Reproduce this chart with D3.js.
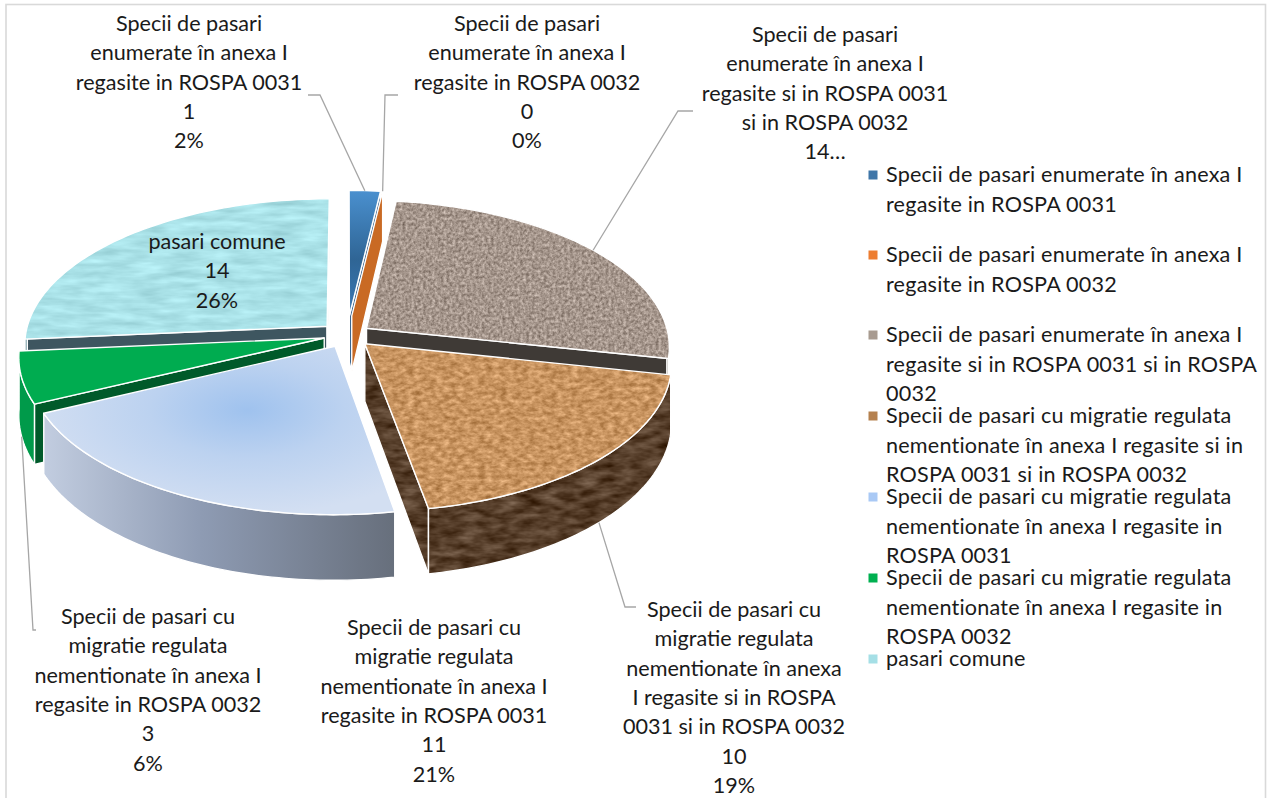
<!DOCTYPE html>
<html><head><meta charset="utf-8">
<script src="https://cdnjs.cloudflare.com/ajax/libs/d3/7.8.5/d3.min.js"></script>
<style>html,body{margin:0;padding:0;background:#fff;overflow:hidden}svg{display:block}text{font-family:Lato,"Open Sans",sans-serif;fill:#1a1a1a}</style>
</head><body><svg id="c" width="1268" height="798"></svg>
<script>
const categories=["Specii de pasari enumerate în anexa I regasite in ROSPA 0031","Specii de pasari enumerate în anexa I regasite in ROSPA 0032","Specii de pasari enumerate în anexa I regasite si in ROSPA 0031 si in ROSPA 0032","Specii de pasari cu migratie regulata nementionate în anexa I regasite si in ROSPA 0031 si in ROSPA 0032","Specii de pasari cu migratie regulata nementionate în anexa I regasite in ROSPA 0031","Specii de pasari cu migratie regulata nementionate în anexa I regasite  in ROSPA 0032","pasari comune"];
const values=[1,0,14,10,11,3,14];
const legendLines=[
["Specii de pasari enumerate în anexa I","regasite in ROSPA 0031"],
["Specii de pasari enumerate în anexa I","regasite in ROSPA 0032"],
["Specii de pasari enumerate în anexa I","regasite si in ROSPA 0031 si in ROSPA","0032"],
["Specii de pasari cu migratie regulata","nementionate în anexa I regasite si in","ROSPA 0031 si in ROSPA 0032"],
["Specii de pasari cu migratie regulata","nementionate în anexa I regasite in","ROSPA 0031"],
["Specii de pasari cu migratie regulata","nementionate în anexa I regasite  in","ROSPA 0032"],
["pasari comune"]];
const legendColors=["#3f76a8","#ed7d31","#a89b90","#b5814f","#a9c9f5","#00b050","#a5dfe6"];
const labelLines=[
["Specii de pasari","enumerate în anexa I","regasite in ROSPA 0031","1","2%"],
["Specii de pasari","enumerate în anexa I","regasite in ROSPA 0032","0","0%"],
["Specii de pasari","enumerate în anexa I","regasite si in ROSPA 0031","si in ROSPA 0032","14…"],
["Specii de pasari cu","migratie regulata","nementionate în anexa","I regasite si in ROSPA","0031 si in ROSPA 0032","10","19%"],
["Specii de pasari cu","migratie regulata","nementionate în anexa I","regasite in ROSPA 0031","11","21%"],
["Specii de pasari cu","migratie regulata","nementionate în anexa I","regasite  in ROSPA 0032","3","6%"],
["pasari comune","14","26%"]];
// layout
const labelPos=[[189,24],[527,24],[825,35],[734,610],[434,628],[148,617],[217,242]];
const LH=29.3,FS=21.6;
const explode=[.135,.135,.08,.084,.086,.078,.09];
const cx=347,cy=335,rx=302,ry=145,P=.122,D=57;
const drawOrder=[6,0,1,2,5,4,3];
const topFill=["url(#gBlue)","#c96a24","#a3948a","#c98f58","url(#gLight)","#00ac50","#a8e0e6"];
const topFilter=[null,null,"url(#granite)","url(#sand)",null,null,"url(#water)"];
const sideFill=["#2e5a85","#c96a24","#3f3a36","#4e3520","#5a6472","#005a2a","#3e5660"];
const wallFill=["#2e5a85","#c96a24","#4a3d32","#4e3520","url(#gWallBlue)","#009a4a","#5f8a94"];
const wallFilter=[null,null,null,"url(#wood)",null,null,null];
const sideFilter=[null,null,null,"url(#wood)",null,null,null];

const svg=d3.select("#c");
const defs=svg.append("defs");
function tex(id,freq,oct,seed,c,k){
  const f=defs.append("filter").attr("id",id).attr("x",0).attr("y",0).attr("width",1).attr("height",1).attr("color-interpolation-filters","sRGB");
  f.append("feTurbulence").attr("type","fractalNoise").attr("baseFrequency",freq).attr("numOctaves",oct).attr("seed",seed).attr("result","n");
  const v=c.map(x=>x/255);
  f.append("feColorMatrix").attr("in","n").attr("type","matrix").attr("values",
   `${k} 0 0 0 ${v[0]-k/2} ${k} 0 0 0 ${v[1]-k/2} ${k} 0 0 0 ${v[2]-k/2} 0 0 0 0 1`).attr("result","c");
  f.append("feComposite").attr("in","c").attr("in2","SourceAlpha").attr("operator","in");
}
tex("granite",".34",3,4,[165,150,140],.5);
tex("sand",".14 .24",3,8,[200,148,96],.42);
tex("water",".03 .14",3,5,[170,226,232],.2);
tex("wood",".05 .14",3,2,[86,62,42],.42);
function lin(id,stops){const g=defs.append("linearGradient").attr("id",id).attr("gradientUnits","objectBoundingBox");
  g.attr("x1",0).attr("x2",1).attr("y1",0).attr("y2",0);stops.forEach(s=>g.append("stop").attr("offset",s[0]).attr("stop-color",s[1]));return g;}
lin("gWallBlue",[[0,"#c2cde0"],[.45,"#8e9bb3"],[1,"#676f7c"]]);
lin("gBlue",[[0,"#4a90cf"],[.55,"#2f6595"],[1,"#3a78b5"]]).attr("x1",0).attr("x2",0).attr("y1",0).attr("y2",1);
const rg=defs.append("radialGradient").attr("id","gLight").attr("cx",.58).attr("cy",.38).attr("r",.62);
[[0,"#9fc2ee"],[.45,"#bcd2f0"],[1,"#d3dff2"]].forEach(s=>rg.append("stop").attr("offset",s[0]).attr("stop-color",s[1]));

const pieGen=d3.pie().sort(null).value(d=>d);
const arcs=pieGen(values);
const scaleS=v=>1/(1-P*v);
function proj(U,V){const s=scaleS(V);return [cx+rx*U*s,cy+ry*V*s,D*s];}
function pt(i,a,r){
  const m=(arcs[i].startAngle+arcs[i].endAngle)/2,f=explode[i];
  return proj(f*Math.sin(m)+r*Math.sin(a),-f*Math.cos(m)-r*Math.cos(a));
}
const line=d3.line();
function angles(a0,a1){const n=Math.max(2,Math.ceil((a1-a0)/.02));return d3.range(n+1).map(k=>a0+(a1-a0)*k/n);}
const gPie=svg.append("g");
function face(pts,fill,filter){
  const d=line(pts)+"Z";
  const p=gPie.append("path").attr("d",d).attr("fill",fill);
  if(filter)p.attr("filter",filter);
  gPie.append("path").attr("d",d).attr("fill","none").attr("stroke","#fff").attr("stroke-width",1.4).attr("stroke-linejoin","round");
}
drawOrder.forEach(i=>{
  const a0=arcs[i].startAngle,a1=arcs[i].endAngle;
  const A=pt(i,a0,0),R0=pt(i,a0,1),R1=pt(i,a1,1);
  const down=p=>[p[0],p[1]+p[2]];
  // cut faces are kept when they turn toward the viewer
  const startVis=a1===a0||(R0[0]-A[0])<0;
  const endVis=a1>a0&&(R1[0]-A[0])>0;
  if(startVis)face([A.slice(0,2),R0.slice(0,2),down(R0),down(A)],a1===a0?topFill[i]:sideFill[i],sideFilter[i]);
  if(endVis)face([A.slice(0,2),R1.slice(0,2),down(R1),down(A)],sideFill[i],sideFilter[i]);
  // outer wall for the front half
  const w0=Math.max(a0,Math.PI/2),w1=Math.min(a1,Math.PI*1.5);
  if(w1>w0){
    const top=angles(w0,w1).map(a=>pt(i,a,1));
    face(top.map(p=>p.slice(0,2)).concat(top.slice().reverse().map(down)),wallFill[i],wallFilter[i]);
  }
  // top face
  if(a1>a0){
    const rim=angles(a0,a1).map(a=>pt(i,a,1).slice(0,2));
    face([A.slice(0,2)].concat(rim),topFill[i],topFilter[i]);
  }
});
// border, open at the bottom edge of the page
svg.append("rect").attr("x",6).attr("y",4.5).attr("width",1259.5).attr("height",900).attr("fill","none").attr("stroke","#d9d9d9").attr("stroke-width",1.6);
// leaders
const leaderKnees=[[[308,95],[320,95]],[[398,95],[385,95]],[[693,111],[678,111]],[[636,607],[625,607]],null,[[36,630],[33,630]],null];
const lg=svg.append("g").attr("fill","none").attr("stroke","#a6a6a6").attr("stroke-width",1.3);
leaderKnees.forEach((k,i)=>{if(!k)return;
  const m=(arcs[i].startAngle+arcs[i].endAngle)/2,p=pt(i,m,1);
  const end=Math.cos(m)<0?[p[0],p[1]+p[2]]:[p[0],p[1]];
  lg.append("path").attr("d",line(k.concat([end])));
});
// labels
labelLines.forEach((ls,i)=>{
  const t=svg.append("text").attr("text-anchor","middle").attr("font-size",FS);
  ls.forEach((s,j)=>t.append("tspan").attr("x",labelPos[i][0]).attr("y",labelPos[i][1]+7+j*LH).text(s));
});
// legend
const legendY=[175,255,335,416,497,578,659];
const lgd=svg.append("g");
legendLines.forEach((ls,i)=>{
  lgd.append("rect").attr("x",868.5).attr("y",legendY[i]-4.5).attr("width",9).attr("height",9).attr("fill",legendColors[i]);
  const t=lgd.append("text").attr("font-size",FS).attr("letter-spacing",.2);
  ls.forEach((s,j)=>t.append("tspan").attr("x",886).attr("y",legendY[i]+7+j*29.5).text(s));
});
</script></body></html>
